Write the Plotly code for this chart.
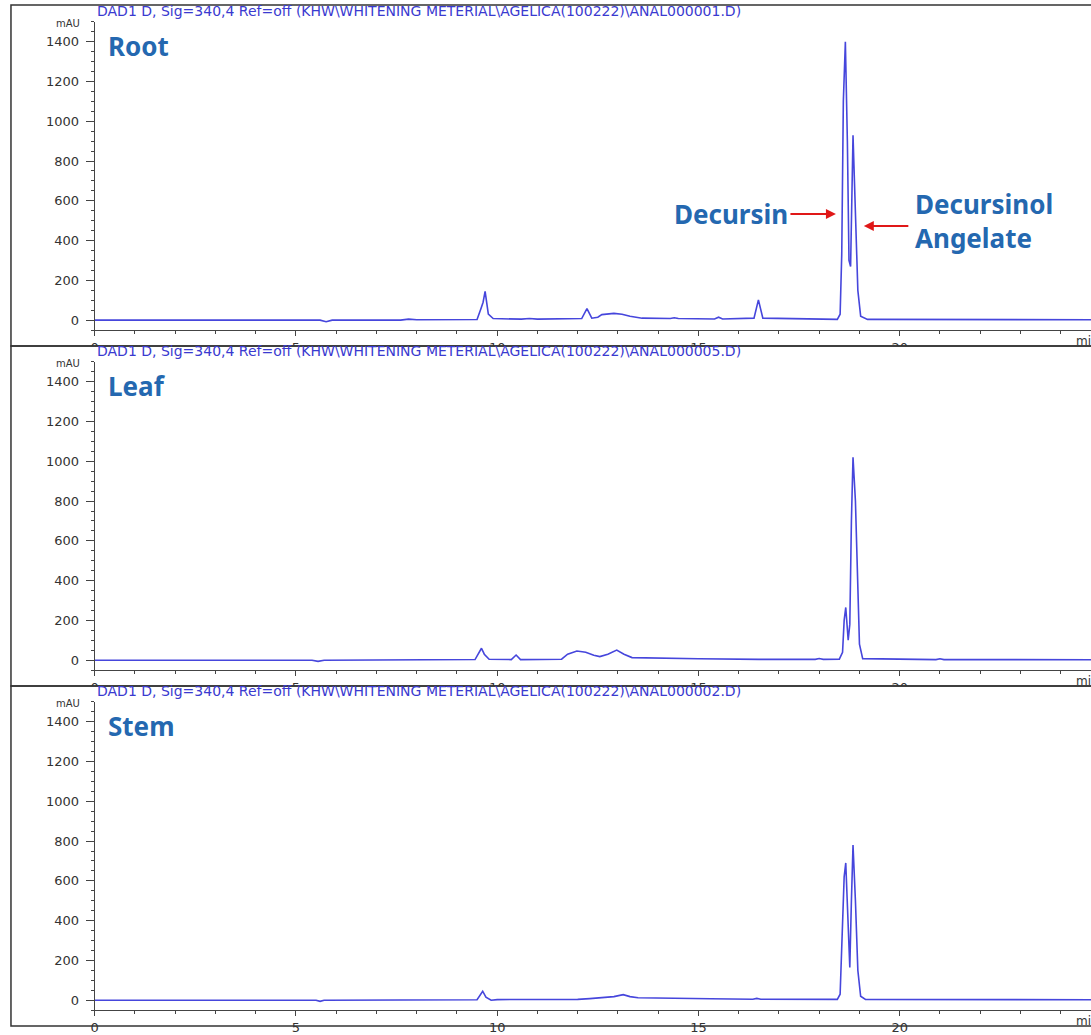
import plotly.graph_objects as go

# ---------------- data ----------------
root_t = [0, 5.6, 5.75, 5.9, 7.6, 7.8, 8.0, 9.5, 9.6, 9.65, 9.7, 9.78, 9.9, 10.6, 10.8, 11.0,
          12.1, 12.23, 12.35, 12.5, 12.6, 12.9, 13.1, 13.3, 13.6, 14.3, 14.4, 14.5, 15.4, 15.5, 15.6,
          16.38, 16.49, 16.6, 18.45, 18.52, 18.56, 18.6, 18.65, 18.7, 18.74, 18.78, 18.84, 18.9,
          18.96, 19.03, 19.2, 25]
root_mau = [0, 0, -8, 0, 0, 5, 2, 3, 60, 90, 145, 30, 8, 5, 8, 5,
            8, 58, 10, 15, 28, 34, 30, 20, 10, 8, 12, 8, 6, 15, 6,
            10, 102, 10, 4, 30, 330, 1100, 1400, 900, 300, 270, 930, 500,
            150, 20, 4, 2]

leaf_t = [0, 5.4, 5.55, 5.7, 9.45, 9.55, 9.61, 9.68, 9.8, 10.35, 10.47, 10.58, 11.6, 11.75, 11.98,
          12.2, 12.4, 12.55, 12.75, 12.97, 13.15, 13.35, 14.0, 15.0, 16.5, 17.9, 18.0, 18.1, 18.5,
          18.58, 18.62, 18.66, 18.72, 18.76, 18.8, 18.84, 18.9, 18.95, 19.0, 19.08, 20.9, 21.0, 21.1, 25]
leaf_mau = [0, 0, -6, 0, 3, 35, 60, 30, 5, 3, 26, 3, 5, 30, 46,
            40, 25, 18, 30, 51, 30, 13, 10, 7, 4, 4, 8, 4, 5,
            40, 200, 265, 100, 180, 700, 1020, 800, 400, 80, 8, 3, 7, 3, 2]

stem_t = [0, 5.5, 5.6, 5.7, 9.5, 9.58, 9.64, 9.72, 9.85, 10.0, 12.0, 12.3, 12.6, 12.9, 13.13, 13.3,
          13.5, 14.5, 15.3, 16.35, 16.45, 16.55, 18.45, 18.52, 18.57, 18.62, 18.66, 18.72, 18.76,
          18.8, 18.84, 18.9, 18.96, 19.03, 19.15, 25]
stem_mau = [0, 0, -6, 0, 2, 25, 45, 15, 0, 3, 4, 8, 12, 18, 28, 18,
            12, 8, 7, 5, 9, 5, 4, 30, 300, 620, 690, 350, 165,
            500, 780, 500, 150, 20, 4, 2]

panel_names = ["Root", "Leaf", "Stem"]
file_ids = ["ANAL000001.D", "ANAL000005.D", "ANAL000002.D"]
x_ticks = [0, 5, 10, 15, 20]
y_ticks = [0, 200, 400, 600, 800, 1000, 1200, 1400]

series = [(root_t, root_mau), (leaf_t, leaf_mau), (stem_t, stem_mau)]

# ---------------- layout geometry ----------------
W, H = 1091, 1035
PX_PER_MIN = 40.4
X0 = 91
STEP = 343


def px(x):
    return x / W


def py(y):
    return 1 - y / H


fig = go.Figure()
line_col = "#4646dc"
label_blue = "#2468b0"
tick_font = dict(family="DejaVu Sans", size=13, color="#333333")

layout = dict(
    width=W, height=H, margin=dict(l=0, r=0, t=0, b=0),
    paper_bgcolor="white", plot_bgcolor="white", showlegend=False,
)
annotations = []
shapes = []

for k, (t, v) in enumerate(series):
    sx = "" if k == 0 else str(k + 1)
    fig.add_trace(go.Scatter(x=t, y=v, mode="lines", xaxis="x" + sx, yaxis="y" + sx,
                             line=dict(color=line_col, width=1.6), hoverinfo="x+y"))
    top = 22 + STEP * k
    bot = 333 + STEP * k
    layout["xaxis" + sx] = dict(
        domain=[px(X0), 1.0], range=[0, (W - X0) / PX_PER_MIN], anchor="y" + sx,
        tickmode="array", tickvals=x_ticks, ticktext=[str(x) for x in x_ticks],
        ticks="outside", ticklen=5, tickcolor="#444", showline=True, linecolor="#444",
        linewidth=1, showgrid=False, zeroline=False, tickfont=tick_font, ticklabelstandoff=0,
        minor=dict(dtick=1, ticks="outside", ticklen=3, tickcolor="#444", showgrid=False),
    )
    layout["yaxis" + sx] = dict(
        domain=[py(bot), py(top)], range=[-50, 1500], anchor="x" + sx,
        tickmode="array", tickvals=y_ticks, ticktext=[str(y) for y in y_ticks],
        ticks="outside", ticklen=8, tickcolor="#444", showline=True, linecolor="#444",
        linewidth=1, showgrid=False, zeroline=False, tickfont=tick_font, ticklabelstandoff=4,
        minor=dict(dtick=50, ticks="outside", ticklen=3, tickcolor="#444", showgrid=False),
    )
    # panel frame
    ftop = 5 if k == 0 else 349 + STEP * (k - 1)
    fbot = 349 + STEP * k
    if k < 2:
        # the next panel hides the lower part of the time labels
        shapes.append(dict(type="rect", xref="paper", yref="paper", layer="above",
                           x0=px(0), x1=px(W + 5), y0=py(fbot + 14), y1=py(fbot),
                           line=dict(width=0), fillcolor="white"))
    shapes.append(dict(type="rect", xref="paper", yref="paper", layer="above",
                       x0=px(7), x1=px(W + 5), y0=py(fbot), y1=py(ftop),
                       line=dict(color="#333333", width=1.5), fillcolor="rgba(0,0,0,0)"))
    # header
    annotations.append(dict(
        xref="paper", yref="paper", x=px(91), y=py(11 + STEP * k), xanchor="left", yanchor="middle",
        text="DAD1 D, Sig=340,4 Ref=off (KHW\\WHITENING METERIAL\\AGELICA(100222)\\" + file_ids[k] + ")",
        showarrow=False, font=dict(family="DejaVu Sans", size=14, color="#3a3ad0")))
    # mAU
    annotations.append(dict(
        xref="paper", yref="paper", x=px(78), y=py(24 + STEP * k), xanchor="right", yanchor="middle",
        text="mAU", showarrow=False, font=dict(family="DejaVu Sans", size=10, color="#333333")))
    # min
    annotations.append(dict(
        xref="paper", yref="paper", x=px(1074), y=py(344 + STEP * k), xanchor="left", yanchor="middle",
        text="min", showarrow=False, font=dict(family="DejaVu Sans", size=12, color="#333333")))
    # panel label
    annotations.append(dict(
        xref="paper", yref="paper", x=px(102), y=py(46 + STEP * k), xanchor="left", yanchor="middle",
        text=panel_names[k], showarrow=False,
        font=dict(family="Noto Sans", size=26, color=label_blue, weight="bold")))

# compound labels & arrows (Root panel)
lab_font = dict(family="Noto Sans", size=26, color=label_blue, weight="bold")
annotations.append(dict(xref="paper", yref="paper", x=px(789), y=py(216), xanchor="right",
                        yanchor="middle", text="Decursin", showarrow=False, font=lab_font))
annotations.append(dict(xref="paper", yref="paper", x=px(912), y=py(223), xanchor="left",
                        yanchor="middle", text="Decursinol<br>Angelate", align="left",
                        showarrow=False, font=lab_font))
annotations.append(dict(xref="paper", yref="paper", x=px(835), y=py(216), text="",
                        showarrow=True, ax=-47, ay=0, arrowhead=2, arrowsize=1, arrowwidth=2,
                        arrowcolor="#e01818"))
annotations.append(dict(xref="paper", yref="paper", x=px(863), y=py(228), text="",
                        showarrow=True, ax=46, ay=0, arrowhead=2, arrowsize=1, arrowwidth=2,
                        arrowcolor="#e01818"))

layout["annotations"] = annotations
layout["shapes"] = shapes
fig.update_layout(**layout)
post = """
document.documentElement.style.overflow='hidden';
document.body.style.margin='0';
document.body.style.overflow='hidden';
var gd=document.getElementById('{plot_id}');
gd.style.position='fixed'; gd.style.left='0px'; gd.style.top='0px';
"""
fig.write_html("out.html", config={"displayModeBar": False}, post_script=post)
